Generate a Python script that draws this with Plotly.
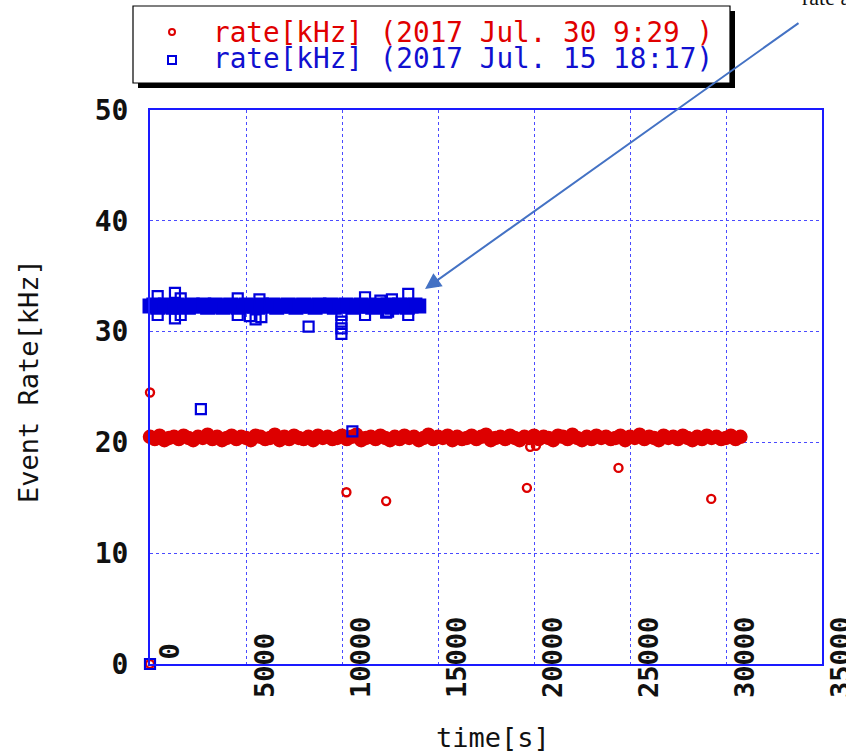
import plotly.graph_objects as go

# ---------------- data ----------------
RED_DT = 250      # sampling interval [s] of run 2017 Jul. 30
BLUE_DT = 200     # sampling interval [s] of run 2017 Jul. 15

RED_BAND_Y = [
    20.5, 20.3, 20.6, 20.2, 20.4, 20.5, 20.3, 20.6, 20.4, 20.2,
    20.5, 20.4, 20.7, 20.3, 20.5, 20.2, 20.4, 20.6, 20.3, 20.5,
    20.4, 20.2, 20.6, 20.5, 20.3, 20.4, 20.7, 20.2, 20.5, 20.3,
    20.6, 20.4, 20.3, 20.5, 20.2, 20.6, 20.4, 20.5, 20.3, 20.4,
    20.6, 20.3, 20.5, 20.7, 20.2, 20.4, 20.5, 20.3, 20.6, 20.4,
    20.2, 20.5, 20.3, 20.6, 20.4, 20.5, 20.2, 20.4, 20.7, 20.3,
    20.5, 20.4, 20.6, 20.2, 20.5, 20.3, 20.4, 20.6, 20.3, 20.5,
    20.7, 20.2, 20.4, 20.5, 20.3, 20.6, 20.4, 20.2, 20.5, 20.4,
    20.6, 20.3, 20.5, 20.4, 20.2, 20.6, 20.5, 20.3, 20.7, 20.4,
    20.2, 20.5, 20.3, 20.6, 20.4, 20.5, 20.3, 20.4, 20.6, 20.2,
    20.5, 20.4, 20.7, 20.3, 20.5, 20.4, 20.2, 20.6, 20.4, 20.5,
    20.3, 20.6, 20.4, 20.2, 20.5, 20.3, 20.6, 20.4, 20.5, 20.3,
    20.4, 20.6, 20.3, 20.5,
]
RED_EXTRA_X = [0, 0, 10230, 12300, 19630, 24400, 29230, 19800, 20100]
RED_EXTRA_Y = [0.0, 24.5, 15.5, 14.7, 15.9, 17.7, 14.9, 19.6, 19.7]

BLUE_BAND_Y = [
    32.3, 32.4, 32.2, 32.3, 32.4, 32.3, 32.2, 32.4, 32.3, 32.3,
    32.2, 32.4, 32.3, 32.3, 32.4, 32.2, 32.3, 32.4, 32.3, 32.2,
    32.3, 32.4, 32.3, 32.2, 32.3, 32.4, 32.3, 32.3, 32.2, 32.4,
    32.3, 32.3, 32.4, 32.2, 32.3, 32.3, 32.4, 32.3, 32.2, 32.3,
    32.4, 32.3, 32.3, 32.2, 32.4, 32.3, 32.3, 32.4, 32.2, 32.3,
    32.3, 32.4, 32.3, 32.2, 32.3, 32.4, 32.3, 32.3, 32.2, 32.4,
    32.3, 32.3, 32.4, 32.2, 32.3, 32.4, 32.3, 32.2, 32.3, 32.4,
    32.3,
]
BLUE_EXTRA_X = [0, 2650, 10540, 400, 400, 1300, 1300, 1600, 1600, 4570, 4570,
                5700, 5200, 5500, 5800, 8260, 9970, 9970, 9970, 9970,
                11200, 11200, 12000, 12300, 12600, 12400, 13450, 13450]
BLUE_EXTRA_Y = [0.0, 23.0, 21.0, 33.2, 31.5, 33.5, 31.2, 33.0, 31.5, 33.0, 31.5,
                32.9, 31.4, 31.1, 31.3, 30.45, 31.5, 30.9, 30.3, 29.8,
                33.1, 31.5, 32.8, 31.7, 32.9, 31.8, 33.4, 31.5]

LEGEND_LABELS = ["rate[kHz] (2017 Jul. 30 9:29 )", "rate[kHz] (2017 Jul. 15 18:17)"]
X_TICKS = [0, 5000, 10000, 15000, 20000, 25000, 30000, 35000]
Y_TICKS = [0, 10, 20, 30, 40, 50]

# ---------------- build ----------------
red_band_x = [i * RED_DT for i in range(len(RED_BAND_Y))]
blue_band_x = [i * BLUE_DT for i in range(len(BLUE_BAND_Y))]

RED = "#dd0000"
BLUE = "#0000dd"

W, H = 846, 752
L, R, T, B = 150, 822, 110, 664


def px(x):
    return (x - L) / (R - L)


def py(y):
    return (B - y) / (B - T)


fig = go.Figure()
# red run
fig.add_trace(go.Scatter(
    x=red_band_x, y=RED_BAND_Y, mode="markers", name=LEGEND_LABELS[0], cliponaxis=False,
    marker=dict(symbol="circle", size=13, color=RED, line=dict(width=1.5, color=RED)),
))
fig.add_trace(go.Scatter(
    x=RED_EXTRA_X, y=RED_EXTRA_Y, mode="markers", name=LEGEND_LABELS[0], cliponaxis=False,
    marker=dict(symbol="circle-open", size=8, color=RED, line=dict(width=2.4, color=RED)),
))
# blue run (dense part drawn as overlapping squares)
fig.add_trace(go.Scatter(
    x=blue_band_x, y=BLUE_BAND_Y, mode="markers", name=LEGEND_LABELS[1], cliponaxis=False,
    marker=dict(symbol="square", size=13, color=BLUE, line=dict(width=2, color=BLUE)),
))
fig.add_trace(go.Scatter(
    x=BLUE_EXTRA_X, y=BLUE_EXTRA_Y, mode="markers", name=LEGEND_LABELS[1], cliponaxis=False,
    marker=dict(symbol="square-open", size=10, color=BLUE, line=dict(width=2.2, color=BLUE)),
))

mono = "DejaVu Sans Mono"
annotations = []
# x tick labels (rotated, straddling the axis)
for v in X_TICKS:
    bottom_px = 662 if v == 0 else 700
    annotations.append(dict(
        x=v, xref="x", y=py(bottom_px), yref="paper", text=str(v), showarrow=False,
        textangle=-90, xanchor="left", yanchor="bottom", xshift=1,
        font=dict(family=mono, size=27, color="#111111", weight="bold"),
    ))
# axis titles
annotations.append(dict(x=px(28), y=py(381), xref="paper", yref="paper", text="Event Rate[kHz]",
                        showarrow=False, textangle=-90, xanchor="center", yanchor="middle",
                        font=dict(family=mono, size=27, color="#111111")))
annotations.append(dict(x=px(493), y=py(737), xref="paper", yref="paper", text="time[s]",
                        showarrow=False, xanchor="center", yanchor="middle",
                        font=dict(family=mono, size=27, color="#111111")))
# legend texts
annotations.append(dict(x=px(211), y=py(32), xref="paper", yref="paper", text=LEGEND_LABELS[0],
                        showarrow=False, xanchor="left", yanchor="middle",
                        font=dict(family=mono, size=27.7, color="#e00000")))
annotations.append(dict(x=px(211), y=py(58), xref="paper", yref="paper", text=LEGEND_LABELS[1],
                        showarrow=False, xanchor="left", yanchor="middle",
                        font=dict(family=mono, size=27.7, color="#1010d0")))
# arrow
annotations.append(dict(x=px(425), y=py(289), xref="paper", yref="paper", text="",
                        showarrow=True, ax=800 - 425, ay=22 - 289, axref="pixel", ayref="pixel",
                        arrowhead=2, arrowsize=1.6, arrowwidth=2, arrowcolor="#4472C4"))
# cropped note at top right
annotations.append(dict(x=px(800), y=py(-3), xref="paper", yref="paper", text="rate avg.",
                        showarrow=False, xanchor="left", yanchor="middle",
                        font=dict(family="Liberation Serif", size=22, color="#111111")))

shapes = [
    # legend shadow and box
    dict(type="rect", xref="paper", yref="paper", x0=px(138), x1=px(735), y0=py(11), y1=py(88),
         fillcolor="black", line=dict(width=0)),
    dict(type="rect", xref="paper", yref="paper", x0=px(133), x1=px(730), y0=py(6), y1=py(83),
         fillcolor="white", line=dict(width=1.2, color="black")),
    # legend symbols
    dict(type="circle", xref="paper", yref="paper", x0=px(169), x1=px(175), y0=py(29), y1=py(35),
         line=dict(width=2, color=RED)),
    dict(type="rect", xref="paper", yref="paper", x0=px(168), x1=px(176), y0=py(56), y1=py(64),
         line=dict(width=2, color=BLUE)),
]

grid = dict(showgrid=True, gridcolor="#4a4aff", griddash="dot", gridwidth=1.3,
            showline=True, mirror=True, linecolor="#1a1aff", linewidth=2,
            zeroline=False, ticks="")

fig.update_layout(
    width=W, height=H, margin=dict(l=L, r=W - R, t=T, b=H - B),
    paper_bgcolor="white", plot_bgcolor="white", showlegend=False,
    xaxis=dict(range=[0, 35000], tickvals=X_TICKS, showticklabels=False, **grid),
    yaxis=dict(range=[0, 50], tickvals=Y_TICKS, ticklabelstandoff=14,
               tickfont=dict(family=mono, size=28, color="#111111", weight="bold"), **grid),
    annotations=annotations, shapes=shapes,
)

fig.write_html("out.html")
